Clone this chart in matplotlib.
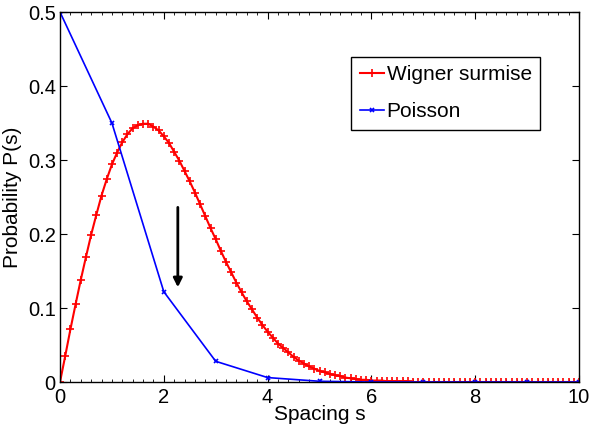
import numpy as np
import matplotlib
matplotlib.use("Agg")
import matplotlib.pyplot as plt
from matplotlib.ticker import MultipleLocator

plt.rcParams['font.family'] = ['Liberation Sans', 'DejaVu Sans']

# Wigner surmise, every 0.1 from s = 0 to 10
wigner_s = np.arange(0, 101) / 10
wigner_p = [
    0.000, 0.035, 0.071, 0.105, 0.138, 0.169, 0.199, 0.226, 0.252, 0.274,
    0.294, 0.310, 0.324, 0.335, 0.343, 0.347, 0.349, 0.349, 0.345, 0.340,
    0.332, 0.323, 0.311, 0.299, 0.285, 0.271, 0.256, 0.240, 0.224, 0.208,
    0.193, 0.177, 0.162, 0.148, 0.134, 0.121, 0.109, 0.098, 0.087, 0.077,
    0.068, 0.060, 0.052, 0.046, 0.040, 0.034, 0.029, 0.025, 0.021, 0.018,
    0.015, 0.013, 0.011, 0.009, 0.008, 0.006, 0.005, 0.004, 0.003, 0.003,
    0.002, 0.002, 0.002, 0.001, 0.001, 0.001, 0.001, 0.001, 0.000, 0.000,
    0.000, 0.000, 0.000, 0.000, 0.000, 0.000, 0.000, 0.000, 0.000, 0.000,
    0.000, 0.000, 0.000, 0.000, 0.000, 0.000, 0.000, 0.000, 0.000, 0.000,
    0.000, 0.000, 0.000, 0.000, 0.000, 0.000, 0.000, 0.000, 0.000, 0.000,
    0.000,
]

# Poisson, one point per unit spacing
poisson_s = [0, 1, 2, 3, 4, 5, 6, 7, 8, 9, 10]
poisson_p = [0.5, 0.35, 0.122, 0.028, 0.006, 0.001, 0.0, 0.0, 0.0, 0.0, 0.0]

fig = plt.figure(figsize=(5.9, 4.32), dpi=100)
ax = fig.add_axes([0.1017, 0.1157, 0.8797, 0.8565])

ax.plot(wigner_s, wigner_p, color='red', lw=1.5, marker='+', ms=5.5, mew=1.2,
        label='Wigner surmise')
ax.plot(poisson_s, poisson_p, color='blue', lw=1.2, marker='x', ms=3, mew=1.2,
        label='Poisson')

# arrow in the middle of the plot
ax.annotate('', xy=(2.27, 0.128), xytext=(2.27, 0.236),
            arrowprops=dict(arrowstyle='-|>', color='black', lw=2,
                            mutation_scale=13, shrinkA=0, shrinkB=0))

ax.set_xlim(0, 10)
ax.set_ylim(0, 0.5)
ax.set_xticks([0, 2, 4, 6, 8, 10])
ax.set_yticks([0, 0.1, 0.2, 0.3, 0.4, 0.5])
ax.set_yticklabels(['0', '0.1', '0.2', '0.3', '0.4', '0.5'])
ax.xaxis.set_minor_locator(MultipleLocator(0.2))
ax.tick_params(which='both', direction='in', top=True, right=True,
               labelsize=14.5)
ax.tick_params(axis='x', pad=4)
ax.tick_params(axis='y', pad=3)
ax.tick_params(which='major', length=5)
ax.tick_params(which='minor', length=2.5)
for sp in ax.spines.values():
    sp.set_linewidth(1.0)

ax.set_xlabel('Spacing s', fontsize=15, labelpad=-1)
ax.set_ylabel('Probability P(s)', fontsize=15, labelpad=4)

leg = ax.legend(loc='upper right', bbox_to_anchor=(0.925, 0.878), fontsize=15,
                fancybox=False, edgecolor='black', framealpha=1,
                handlelength=1.15, handletextpad=0.15, borderpad=0.4,
                labelspacing=0.85, borderaxespad=0)
leg.get_frame().set_linewidth(1.0)

fig.savefig('out.png', dpi=100)
